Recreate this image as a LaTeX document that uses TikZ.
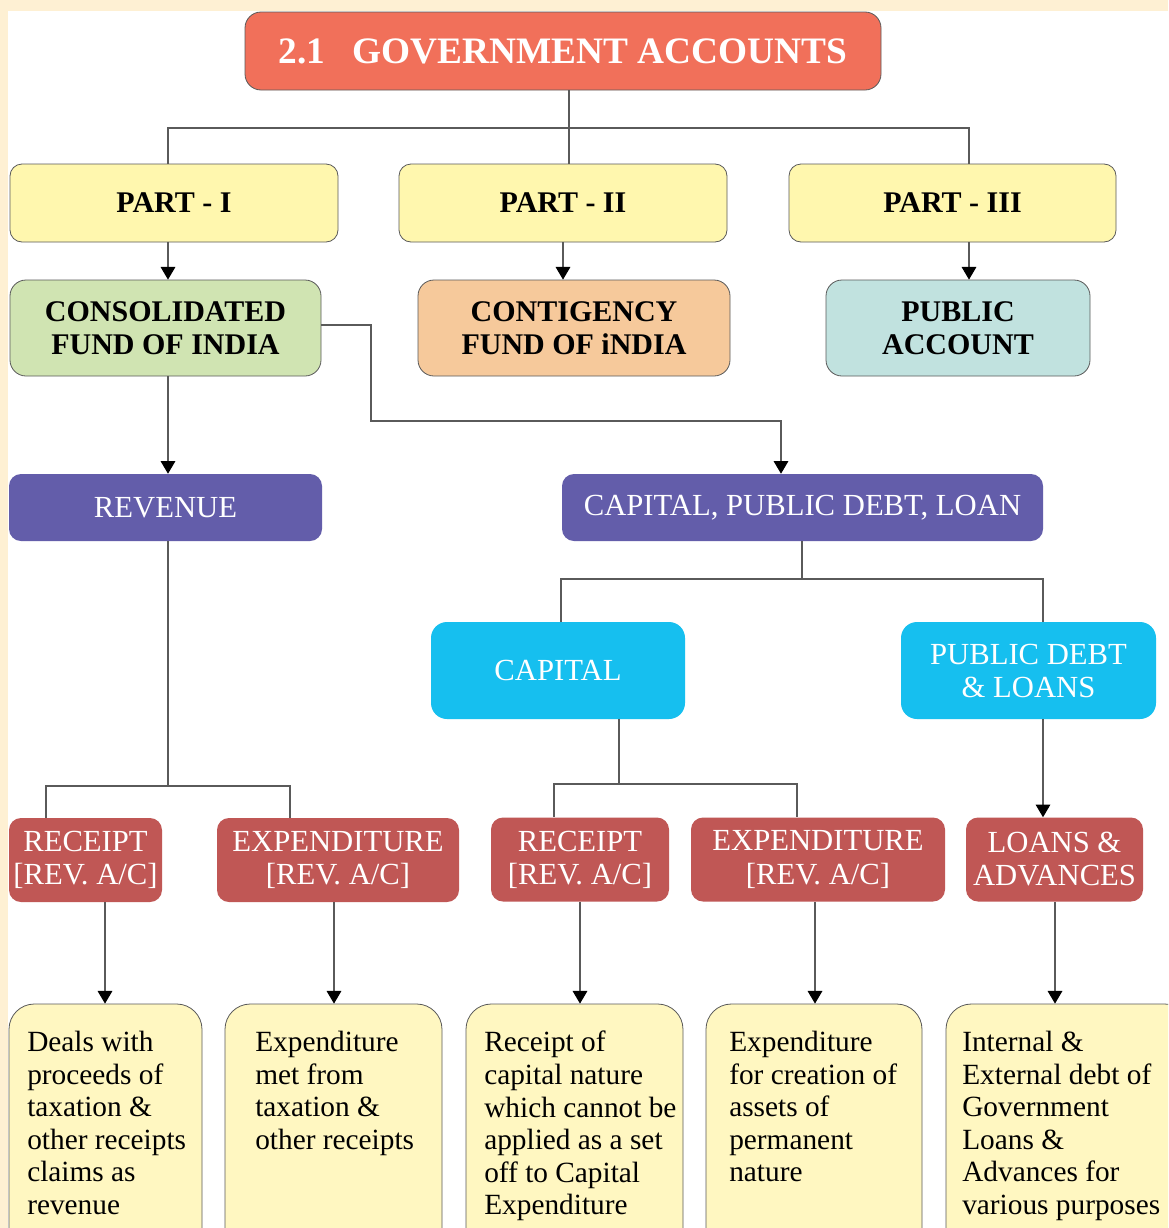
\documentclass[tikz,border=0pt]{standalone}
\usepackage{fontspec}
\setmainfont{Liberation Serif}
\usetikzlibrary{arrows.meta}
\definecolor{cream}{HTML}{FEF0D3}
\definecolor{titlec}{HTML}{F1705A}
\definecolor{partc}{HTML}{FFF7AE}
\definecolor{greenc}{HTML}{D0E4B2}
\definecolor{orangec}{HTML}{F6C99B}
\definecolor{tealc}{HTML}{C1E2DF}
\definecolor{purplec}{HTML}{635DAA}
\definecolor{cyanc}{HTML}{16BFEF}
\definecolor{redc}{HTML}{C05755}
\definecolor{notec}{HTML}{FFF7C1}
\definecolor{edgec}{HTML}{5A5A5A}
\begin{document}
\begin{tikzpicture}[x=0.75pt,y=-0.75pt,
  sz/.style 2 args={minimum width=#1*0.75pt, minimum height=#2*0.75pt},
  box/.style={rounded corners=9pt, inner sep=0pt, align=center},
  hd/.style={box, draw=edgec, line width=0.6pt, text=black,
    font=\bfseries\fontsize{22.5}{24.5}\selectfont},
  wt/.style={box, text=white, font=\fontsize{23}{24.75}\selectfont},
  note/.style={rounded corners=19pt, inner sep=0pt, draw=edgec, line width=0.6pt, fill=notec},
  notetxt/.style={inner sep=0pt, align=left, anchor=north west, font=\fontsize{22}{24.4}\selectfont},
  ln/.style={draw=edgec, line width=0.8pt},
  arr/.style={ln, -{Triangle[length=9.5pt,width=11pt,color=black]}}
]
\useasboundingbox (0,0) rectangle (1168,1228);
\clip (0,0) rectangle (1168,1228);
\fill[cream] (0,0) rectangle (1168,1228);
\fill[white] (8,11) rectangle (1168,1228);

% title
\node[hd, fill=titlec, text=white, rounded corners=12pt, sz={636}{78},
  font=\bfseries\fontsize{28}{30}\selectfont] (title) at (563,51)
  {2.1\hspace{20pt}GOVERNMENT ACCOUNTS};

% parts
\node[hd, fill=partc, sz={328}{78}] (p1) at (174,203) {PART - I};
\node[hd, fill=partc, sz={328}{78}] (p2) at (563,203) {PART - II};
\node[hd, fill=partc, sz={327}{78}] (p3) at (952.5,203) {PART - III};

% funds
\node[hd, fill=greenc, sz={311}{96}, rounded corners=12pt] (cf) at (165.5,328) {CONSOLIDATED\\FUND OF INDIA};
\node[hd, fill=orangec, sz={312}{96}, rounded corners=12pt] (cg) at (574,328) {CONTIGENCY\\FUND OF iNDIA};
\node[hd, fill=tealc, sz={264}{96}, rounded corners=12pt] (pa) at (958,328) {PUBLIC\\ACCOUNT};

% purple
\node[wt, fill=purplec, sz={313}{67}] (rev) at (165.5,507.5) {REVENUE};
\node[wt, fill=purplec, sz={481}{67}] (cpd) at (802.5,507.5) {CAPITAL, PUBLIC DEBT, LOAN};

% cyan
\node[wt, fill=cyanc, sz={254}{97}, rounded corners=12pt] (cap) at (558,670.5) {CAPITAL};
\node[wt, fill=cyanc, sz={255}{97}, rounded corners=12pt] (pdl) at (1028.5,670.5) {PUBLIC DEBT\\\& LOANS};

% red
\node[wt, fill=redc, sz={153}{84}] (r1) at (85.5,860) {RECEIPT\\{}[REV. A/C]};
\node[wt, fill=redc, sz={242}{84}] (e1) at (338,860) {EXPENDITURE\\{}[REV. A/C]};
\node[wt, fill=redc, sz={178}{84}] (r2) at (580,859.5) {RECEIPT\\{}[REV. A/C]};
\node[wt, fill=redc, sz={254}{84}] (e2) at (818,859.5) {EXPENDITURE\\{}[REV. A/C]};
\node[wt, fill=redc, sz={177}{84}] (la) at (1054.5,859.5) {LOANS \&\\ADVANCES};

% notes
\node[note, sz={193}{250}] (b1) at (105.5,1129) {};
\node[note, sz={217}{250}] (b2) at (333.5,1129) {};
\node[note, sz={217}{250}] (b3) at (574.5,1129) {};
\node[note, sz={216}{250}] (b4) at (814,1129) {};
\node[note, sz={244}{250}] (b5) at (1068,1129) {};

\node[notetxt] (t1) at (27,1031) {Deals with\\proceeds of\\taxation \&\\other receipts\\claims as\\revenue};
\node[notetxt] (t2) at (255,1031) {Expenditure\\met from\\taxation \&\\other receipts};
\node[notetxt] (t3) at (484,1031) {Receipt of\\capital nature\\which cannot be\\applied as a set\\off to Capital\\Expenditure};
\node[notetxt] (t4) at (729,1031) {Expenditure\\for creation of\\assets of\\permanent\\nature};
\node[notetxt] (t5) at (962,1031) {Internal \&\\External debt of\\Government\\Loans \&\\Advances for\\various purposes};

% connectors
\coordinate (j1) at (569,128);
\draw[ln] (title.south -| j1) -- (j1);
\draw[ln] (j1) -| (p1.north -| 168,0);
\draw[ln] (j1) -- (p2.north -| j1);
\draw[ln] (j1) -| (p3.north -| 969,0);

\draw[arr] (p1.south -| 168,0) -- (cf.north -| 168,0);
\draw[arr] (p2.south -| 563,0) -- (cg.north -| 563,0);
\draw[arr] (p3.south -| 969,0) -- (pa.north -| 969,0);

\coordinate (j2) at (371,421);
\draw[arr] (cf.east |- 0,325) -| (j2) -| (cpd.north -| 781,0);
\draw[arr] (cf.south -| 168,0) -- (rev.north -| 168,0);

\coordinate (j3) at (802,579);
\draw[ln] (cpd.south -| j3) -- (j3);
\draw[ln] (j3) -| (cap.north -| 561,0);
\draw[ln] (j3) -| (pdl.north -| 1043,0);

\coordinate (j4) at (168,786);
\draw[ln] (rev.south -| j4) -- (j4);
\draw[ln] (j4) -| (r1.north -| 46,0);
\draw[ln] (j4) -| (e1.north -| 290,0);

\coordinate (j5) at (619,784);
\draw[ln] (cap.south -| j5) -- (j5);
\draw[ln] (j5) -| (r2.north -| 554,0);
\draw[ln] (j5) -| (e2.north -| 797,0);

\draw[arr] (pdl.south -| 1043,0) -- (la.north -| 1043,0);

\draw[arr] (r1.south -| 105,0) -- (b1.north -| 105,0);
\draw[arr] (e1.south -| 334,0) -- (b2.north -| 334,0);
\draw[arr] (r2.south -| 580,0) -- (b3.north -| 580,0);
\draw[arr] (e2.south -| 815,0) -- (b4.north -| 815,0);
\draw[arr] (la.south -| 1055,0) -- (b5.north -| 1055,0);
\end{tikzpicture}
\end{document}
